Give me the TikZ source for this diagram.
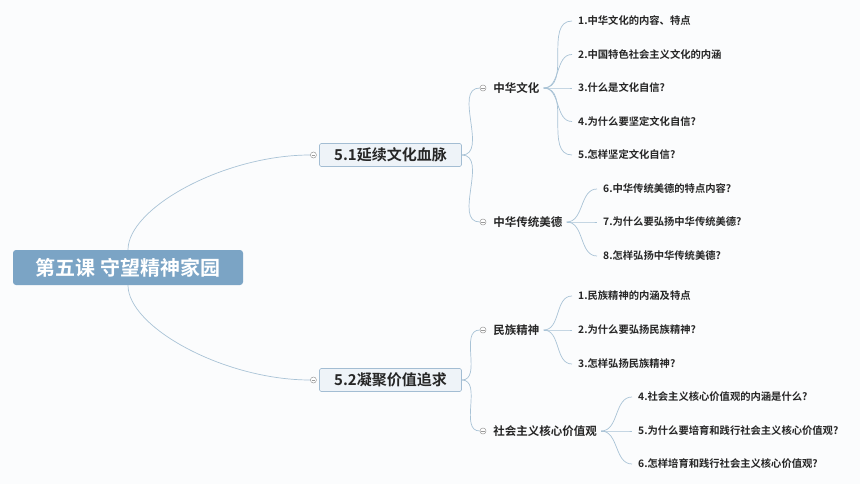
\documentclass[tikz,border=0pt]{standalone}
\usepackage{fontspec}
\setmainfont{Noto Sans CJK SC}[BoldFont={Noto Sans CJK SC Bold}]
\usetikzlibrary{positioning}
\definecolor{linec}{HTML}{A9C3D6}
\definecolor{rootc}{HTML}{7BA4C5}
\definecolor{topicc}{HTML}{EEF3F8}
\definecolor{topicd}{HTML}{A3BDD3}
\definecolor{textc}{HTML}{262626}
\definecolor{foldc}{HTML}{9A9A9A}
\definecolor{bgc}{HTML}{FBFCFD}

\tikzset{
  rootbox/.style={fill=rootc,rounded corners=3pt,minimum width=230pt,minimum height=35pt,
    text=white,font=\bfseries\fontsize{20pt}{22pt}\selectfont,inner sep=0pt},
  topicbox/.style={fill=topicc,draw=topicd,line width=0.6pt,rounded corners=1.5pt,
    minimum width=142pt,minimum height=23pt,text=textc,font=\bfseries\fontsize{15pt}{17pt}\selectfont,inner sep=0pt},
  subtopic/.style={text=textc,font=\bfseries\fontsize{11.5pt}{13pt}\selectfont,inner xsep=4pt,inner ysep=1pt},
  leaf/.style={anchor=west,text=textc,font=\bfseries\fontsize{10.3pt}{12pt}\selectfont,inner xsep=6pt,inner ysep=1pt},
  fold/.style={circle,draw=foldc,fill=white,line width=0.5pt,inner sep=0pt,minimum size=6pt,
    path picture={\draw[foldc,line width=0.5pt] ([xshift=-1.6pt]path picture bounding box.center) -- ([xshift=1.6pt]path picture bounding box.center);}},
  link/.style={draw=linec,line width=0.7pt}
}

\begin{document}
\begin{tikzpicture}[x=1pt,y=-1pt]
     \fill[bgc] (0,0) rectangle (860,484);
     \useasboundingbox (0,0) rectangle (860,484);

     % main topic and the two lessons
     \node[rootbox] (root) at (128,267.5) {第五课 守望精神家园};

     \node[topicbox] (tA) at (390.5,155) {5.1延续文化血脉};
     \node[topicbox] (tB) at (390.5,380) {5.2凝聚价值追求};
     \node[fold,left=2.5pt of tA] (fA) {};
     \node[fold,left=2.5pt of tB] (fB) {};

     \draw[link] (root.north) .. controls +(0,-42) and +(-86,0) .. (fA.west);
     \draw[link] (root.south) .. controls +(0,42) and +(-86,0) .. (fB.west);

     % sub topics
     \node[fold] (fA1) at (483,88) {};
     \node[fold] (fA2) at (483,222) {};
     \node[fold] (fB1) at (483,330) {};
     \node[fold] (fB2) at (483,431) {};

     \node[subtopic,right=3pt of fA1] (sA1) {中华文化};
     \node[subtopic,right=3pt of fA2] (sA2) {中华传统美德};
     \node[subtopic,right=3pt of fB1] (sB1) {民族精神};
     \node[subtopic,right=3pt of fB2] (sB2) {社会主义核心价值观};

     \draw[link] (tA.east) to[out=0,in=180] (fA1.west);
     \draw[link] (tA.east) to[out=0,in=180] (fA2.west);
     \draw[link] (tB.east) to[out=0,in=180] (fB1.west);
     \draw[link] (tB.east) to[out=0,in=180] (fB2.west);

     % questions
     \node[leaf] (qA1) at (572,21) {1.中华文化的内容、特点};
     \node[leaf] (qA2) at (572,54.5) {2.中国特色社会主义文化的内涵};
     \node[leaf] (qA3) at (572,88) {3.什么是文化自信?};
     \node[leaf] (qA4) at (572,121.5) {4.为什么要坚定文化自信?};
     \node[leaf] (qA5) at (572,155) {5.怎样坚定文化自信?};

     \node[leaf] (qA6) at (597,189) {6.中华传统美德的特点内容?};
     \node[leaf] (qA7) at (597,222) {7.为什么要弘扬中华传统美德?};
     \node[leaf] (qA8) at (597,256) {8.怎样弘扬中华传统美德?};

     \node[leaf] (qB1) at (572,296) {1.民族精神的内涵及特点};
     \node[leaf] (qB2) at (572,330) {2.为什么要弘扬民族精神?};
     \node[leaf] (qB3) at (572,364) {3.怎样弘扬民族精神?};

     \node[leaf] (qB4) at (632,397) {4.社会主义核心价值观的内涵是什么?};
     \node[leaf] (qB5) at (632,431) {5.为什么要培育和践行社会主义核心价值观?};
     \node[leaf] (qB6) at (632,464) {6.怎样培育和践行社会主义核心价值观?};

     \foreach \q in {1,...,5} \draw[link] (sA1.east) to[out=0,in=180] (qA\q.west);
     \foreach \q in {6,7,8} \draw[link] (sA2.east) to[out=0,in=180] (qA\q.west);
     \foreach \q in {1,2,3} \draw[link] (sB1.east) to[out=0,in=180] (qB\q.west);
     \foreach \q in {4,5,6} \draw[link] (sB2.east) to[out=0,in=180] (qB\q.west);

\end{tikzpicture}
\end{document}
